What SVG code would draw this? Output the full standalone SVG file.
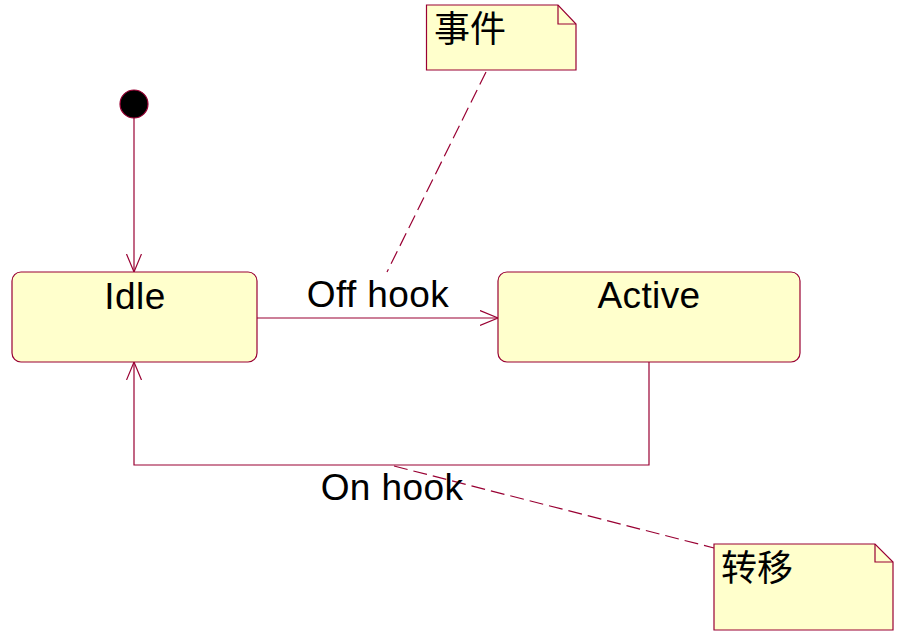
<svg xmlns="http://www.w3.org/2000/svg" width="903" height="635" viewBox="0 0 903 635">
<defs>
<style>
.st{fill:#FFFFCC;stroke:#990033;stroke-width:1.2}
.ln{fill:none;stroke:#990033;stroke-width:1.2}
.dash{fill:none;stroke:#990033;stroke-width:1.2;stroke-dasharray:14 6}
.lbl{font-family:"Liberation Sans",Arial,sans-serif;font-size:37px;fill:#000;text-anchor:middle;letter-spacing:0.4px}
.cjk{font-family:"Noto Sans CJK SC","Noto Sans CJK JP",sans-serif;font-size:36px;fill:#000}
</style>
<marker id="open" markerUnits="userSpaceOnUse" markerWidth="20" markerHeight="18" refX="18" refY="8" orient="auto">
<path d="M0,0.5 L18,8 L0,15.5" fill="none" stroke="#990033" stroke-width="1.2"/>
</marker>
</defs>
<rect width="903" height="635" fill="#fff"/>
<g id="connectors">
<line class="ln" x1="134" y1="118" x2="134" y2="272" marker-end="url(#open)"/>
<line class="ln" x1="257" y1="318" x2="498" y2="318" marker-end="url(#open)"/>
<polyline class="ln" points="649,362 649,465 134,465 134,362" marker-end="url(#open)"/>
<line class="dash" x1="486" y1="72" x2="387" y2="272"/>
<line class="dash" x1="394" y1="466" x2="714" y2="548"/>
<text class="lbl" x="378" y="307">Off hook</text>
<text class="lbl" x="392" y="500">On hook</text>
</g>
<g id="initial">
<circle cx="134" cy="104" r="14" fill="#000" stroke="#990033" stroke-width="1.2"/>
</g>
<g id="idle">
<rect class="st" x="12" y="272" width="245" height="90" rx="9"/>
<text class="lbl" x="135" y="309">Idle</text>
</g>
<g id="active">
<rect class="st" x="498" y="272" width="302" height="90" rx="9"/>
<text class="lbl" x="649" y="308">Active</text>
</g>
<g id="note-event">
<path class="st" d="M426.5,5 H558 L576,24 V70 H426.5 Z"/>
<path class="ln" d="M558,5 V24 H576"/>
<text class="cjk" x="434" y="42">事件</text>
</g>
<g id="note-transition">
<path class="st" d="M714,544 H875 L893,562 V630 H714 Z"/>
<path class="ln" d="M875,544 V562 H893"/>
<text class="cjk" x="721" y="581">转移</text>
</g>
</svg>
